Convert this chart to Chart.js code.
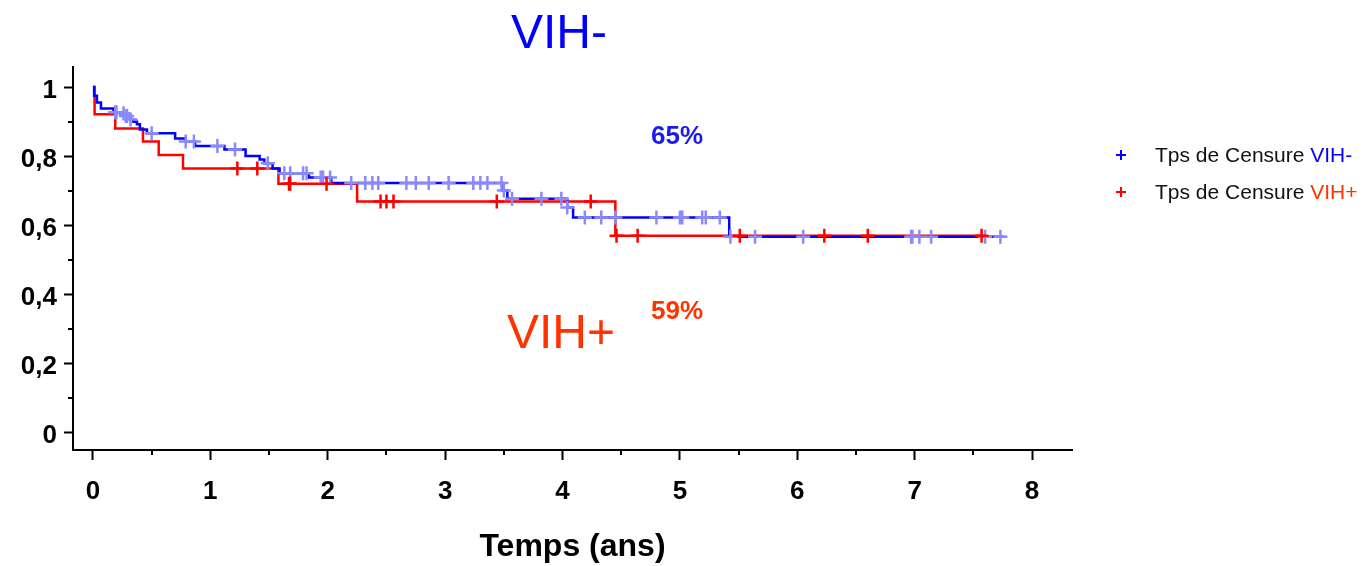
<!DOCTYPE html>
<html lang="fr">
<head>
<meta charset="utf-8" />
<title>Survie VIH- / VIH+</title>
<script src="https://cdn.jsdelivr.net/npm/chart.js"></script>
<style>
  body { margin: 0; background: #fff; }
  canvas { display: block; }
</style>
</head>
<body>
<canvas id="survieChart" width="1366" height="566"></canvas>
<script>
    // Kaplan-Meier VIH- (temps en années, survie)
    const vihMoinsTemps = [0, 0.01, 0.034, 0.068, 0.175, 0.23, 0.275, 0.318, 0.345, 0.375, 0.40, 0.46, 0.70, 0.79, 0.87, 1.12, 1.30, 1.42, 1.46, 1.53, 1.59, 1.84, 2.03, 3.49, 3.53, 4.04, 4.09, 5.42, 7.76];
    const vihMoinsSurvie = [1, 0.975, 0.955, 0.938, 0.927, 0.924, 0.916, 0.906, 0.899, 0.892, 0.877, 0.866, 0.851, 0.842, 0.829, 0.819, 0.800, 0.790, 0.779, 0.764, 0.750, 0.738, 0.722, 0.700, 0.676, 0.651, 0.622, 0.566, 0.566];
    const vihMoinsCensure = [0.19, 0.20, 0.26, 0.28, 0.29, 0.32, 0.50, 0.79, 0.86, 1.06, 1.21, 1.49, 1.63, 1.68, 1.79, 1.82, 1.94, 1.96, 2.02, 2.20, 2.32, 2.38, 2.43, 2.67, 2.75, 2.86, 3.03, 3.24, 3.30, 3.36, 3.48, 3.50, 3.57, 3.82, 3.99, 4.04, 4.19, 4.33, 4.45, 4.80, 5.00, 5.02, 5.19, 5.22, 5.34, 5.43, 5.64, 6.05, 6.97, 6.98, 7.04, 7.14, 7.60, 7.73];

    // Kaplan-Meier VIH+
    const vihPlusTemps = [0, 0.014, 0.19, 0.426, 0.56, 0.767, 1.58, 2.25, 4.45, 7.60];
    const vihPlusSurvie = [1, 0.921, 0.880, 0.842, 0.803, 0.764, 0.720, 0.668, 0.569, 0.569];
    const vihPlusCensure = [1.23, 1.40, 1.67, 1.68, 1.99, 2.45, 2.50, 2.56, 3.44, 4.24, 4.46, 4.64, 5.51, 6.23, 6.60, 7.57];

    const xTicks = [0, 1, 2, 3, 4, 5, 6, 7, 8];
    const xMinor = [0.5, 1.5, 2.5, 3.5, 4.5, 5.5, 6.5, 7.5];
    const yTicks = [0, 0.2, 0.4, 0.6, 0.8, 1];
    const yMinor = [0.1, 0.3, 0.5, 0.7, 0.9];

    const FONT = "'Liberation Sans', Arial, sans-serif";
    const BLEU = '#0000ff';
    const ROUGE = '#ff0000';
    const ORANGE = '#ff3300';

    // valeur de la courbe en escalier au temps t
    function survieA(temps, survie, t) {
        let s = survie[0];
        for (let i = 0; i < temps.length; i++) {
            if (temps[i] <= t) s = survie[i];
        }
        return s;
    }

    function points(temps, survie) {
        return temps.map((t, i) => ({ x: t, y: survie[i] }));
    }

    function censures(liste, temps, survie) {
        return liste.map(t => ({ x: t, y: survieA(temps, survie, t) }));
    }

    // textes, légende et petites graduations
    const decor = {
        id: 'decor',
        afterDraw(chart) {
            const c = chart.ctx;
            const xs = chart.scales.x;
            const ys = chart.scales.y;
            c.save();

            c.strokeStyle = '#000';
            c.lineWidth = 2;
            yMinor.forEach(v => {
                const py = Math.round(ys.getPixelForValue(v));
                c.beginPath(); c.moveTo(ys.right - 5, py); c.lineTo(ys.right, py); c.stroke();
            });
            xMinor.forEach(v => {
                const px = Math.round(xs.getPixelForValue(v));
                c.beginPath(); c.moveTo(px, xs.top); c.lineTo(px, xs.top + 5); c.stroke();
            });

            c.textAlign = 'center';
            c.textBaseline = 'alphabetic';
            c.font = '48px ' + FONT;
            c.fillStyle = BLEU;
            c.fillText('VIH-', 559, 48);
            c.fillStyle = ORANGE;
            c.fillText('VIH+', 561, 348);

            c.font = 'bold 26px ' + FONT;
            c.fillStyle = '#1a1aee';
            c.fillText('65%', 677, 144);
            c.fillStyle = ORANGE;
            c.fillText('59%', 677, 319);

            // légende
            const lignes = [
                { y: 155, croix: BLEU, mot: 'VIH-', couleur: BLEU },
                { y: 192, croix: ROUGE, mot: 'VIH+', couleur: ORANGE }
            ];
            c.font = '21px ' + FONT;
            c.textAlign = 'left';
            c.textBaseline = 'middle';
            lignes.forEach(l => {
                c.strokeStyle = l.croix;
                c.lineWidth = 2;
                c.beginPath();
                c.moveTo(1116, l.y); c.lineTo(1126, l.y);
                c.moveTo(1121, l.y - 5); c.lineTo(1121, l.y + 5);
                c.stroke();
                const debut = 'Tps de Censure ';
                c.fillStyle = '#111';
                c.fillText(debut, 1155, l.y + 1);
                const w = c.measureText(debut).width;
                c.fillStyle = l.couleur;
                c.fillText(l.mot, 1155 + w, l.y + 1);
            });
            c.restore();
        }
    };

    const ctx = document.getElementById('survieChart');

    const data = {
        datasets: [{
            label: 'VIH-',
            type: 'line',
            data: points(vihMoinsTemps, vihMoinsSurvie),
            stepped: 'before',
            borderColor: BLEU,
            borderWidth: 2.5,
            pointRadius: 0,
            fill: false,
            order: 3
        }, {
            label: 'VIH+',
            type: 'line',
            data: points(vihPlusTemps, vihPlusSurvie),
            stepped: 'before',
            borderColor: ROUGE,
            borderWidth: 2.5,
            pointRadius: 0,
            fill: false,
            order: 4
        }, {
            label: 'Tps de Censure VIH-',
            type: 'scatter',
            data: censures(vihMoinsCensure, vihMoinsTemps, vihMoinsSurvie),
            pointStyle: 'cross',
            pointRadius: 7,
            pointBorderWidth: 2.5,
            pointBorderColor: '#8a8aff',
            order: 2
        }, {
            label: 'Tps de Censure VIH+',
            type: 'scatter',
            data: censures(vihPlusCensure, vihPlusTemps, vihPlusSurvie),
            pointStyle: 'cross',
            pointRadius: 7,
            pointBorderWidth: 2.5,
            pointBorderColor: ROUGE,
            order: 1
        }]
    };

    const config = {
        type: 'scatter',
        data: data,
        plugins: [decor],
        options: {
            responsive: false,
            animation: false,
            devicePixelRatio: 1,
            layout: { padding: { top: 67, right: 294, left: 0, bottom: 0 } },
            plugins: {
                legend: { display: false },
                tooltip: { enabled: false }
            },
            scales: {
                x: {
                    type: 'linear',
                    min: -0.17,
                    max: 8.34,
                    afterBuildTicks: s => { s.ticks = xTicks.map(v => ({ value: v })); },
                    afterFit: s => { s.height = 116; },
                    border: { display: true, color: '#000', width: 2 },
                    grid: { drawOnChartArea: false, drawTicks: true, tickLength: 10, tickColor: '#000', tickWidth: 2 },
                    ticks: {
                        color: '#000',
                        padding: 16,
                        maxRotation: 0,
                        font: { family: FONT, size: 26, weight: 'bold' },
                        callback: v => String(v)
                    },
                    title: {
                        display: true,
                        text: 'Temps (ans)',
                        color: '#000',
                        font: { family: FONT, size: 32, weight: 'bold' },
                        padding: { top: 0, bottom: 0 }
                    }
                },
                y: {
                    type: 'linear',
                    min: -0.052,
                    max: 1.058,
                    afterBuildTicks: s => { s.ticks = yTicks.map(v => ({ value: v })); },
                    afterFit: s => { s.width = 73; },
                    border: { display: true, color: '#000', width: 2 },
                    grid: { drawOnChartArea: false, drawTicks: true, tickLength: 9, tickColor: '#000', tickWidth: 2 },
                    ticks: {
                        color: '#000',
                        padding: 7,
                        labelOffset: 4,
                        font: { family: FONT, size: 26, weight: 'bold' },
                        callback: v => String(Math.round(v * 10) / 10).replace('.', ',')
                    }
                }
            }
        }
    };
    new Chart(ctx, config);
</script>
</body>
</html>
